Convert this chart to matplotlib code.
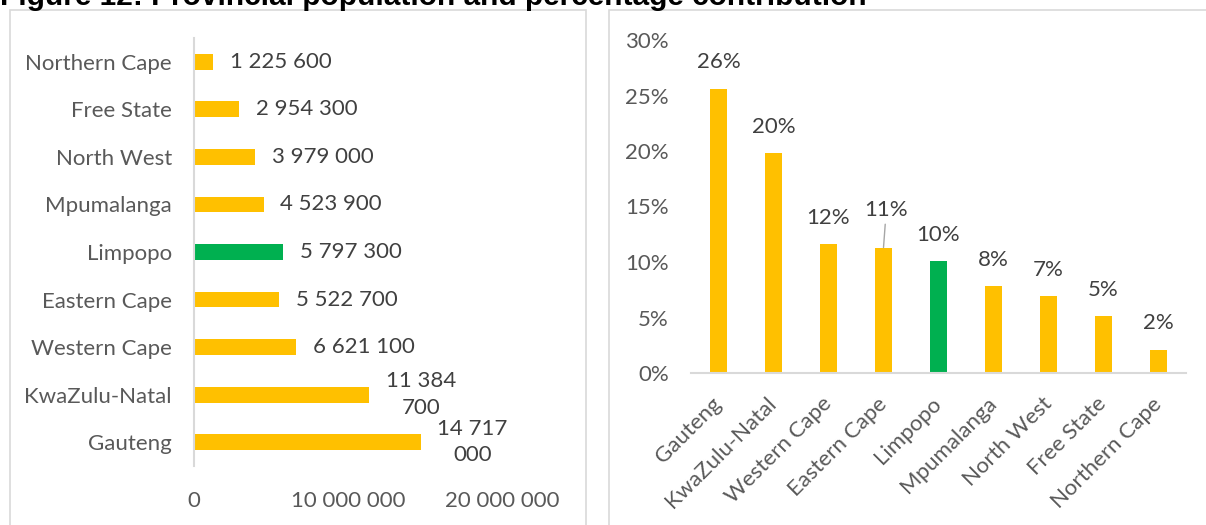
import matplotlib
matplotlib.use('Agg')
import matplotlib.pyplot as plt
from matplotlib.patches import Rectangle
from matplotlib.ticker import FuncFormatter
import numpy as np

# data (bottom to top on the left chart, left to right on the right chart)
provinces = ['Gauteng', 'KwaZulu-Natal', 'Western Cape', 'Eastern Cape', 'Limpopo',
             'Mpumalanga', 'North West', 'Free State', 'Northern Cape']
population = [14717000, 11384700, 6621100, 5522700, 5797300,
              4523900, 3979000, 2954300, 1225600]
share = [0.256, 0.198, 0.116, 0.113, 0.101, 0.078, 0.069, 0.051, 0.021]

YELLOW = '#FFC000'
GREEN = '#00B050'
AXIS_GREY = '#D9D9D9'
TXT = '#595959'
LBL = '#404040'
FONT = 'Lato'
FS = 16

colors = [GREEN if p == 'Limpopo' else YELLOW for p in provinces]


def space_thousands(v):
    return '{:,.0f}'.format(v).replace(',', ' ')


def wrap_label(v):
    # Excel wraps the long labels after the second group
    s = space_thousands(v)
    parts = s.split(' ')
    if v >= 10000000:
        return ' '.join(parts[:2]) + '\n' + ' '.join(parts[2:])
    return s


W, H = 1206, 525
fig = plt.figure(figsize=(W / 100, H / 100), dpi=100)

# panel frames
fig.patches.append(Rectangle((10 / W, -0.05), 576 / W, 1.05 - 10 / H,
                             transform=fig.transFigure, fill=False,
                             edgecolor=AXIS_GREY, lw=1.2))
fig.patches.append(Rectangle((609.5 / W, -0.05), 0.6, 1.05 - 10 / H,
                             transform=fig.transFigure, fill=False,
                             edgecolor=AXIS_GREY, lw=1.2))

fig.text(0, 1 - 5 / H, 'Figure 12: Provincial population and percentage contribution',
         fontsize=21.5, fontweight='bold', family='Liberation Sans', va='baseline', ha='left')

# ---- left: population bar chart
ax1 = fig.add_axes([194 / W, 1 - 466 / H, 308 / W, 428 / H])
y = np.arange(len(provinces))
ax1.barh(y, population, height=0.33, color=colors)
ax1.set_xlim(0, 20000000)
ax1.set_ylim(-0.5, len(provinces) - 0.5)
ax1.set_xticks([0, 10000000, 20000000])
ax1.xaxis.set_major_formatter(FuncFormatter(lambda v, p: space_thousands(v)))
ax1.set_yticks(y)
ax1.set_yticklabels(provinces)
for s in ['top', 'right', 'bottom']:
    ax1.spines[s].set_visible(False)
ax1.spines['left'].set_color(AXIS_GREY)
ax1.spines['left'].set_linewidth(1.5)
ax1.tick_params(axis='both', length=0, labelsize=FS, colors=TXT)
ax1.tick_params(axis='y', pad=16)
ax1.tick_params(axis='x', pad=18)
for t in ax1.get_xticklabels() + ax1.get_yticklabels():
    t.set_family(FONT)

for yi, v in zip(y, population):
    ax1.annotate(wrap_label(v), xy=(v, yi), xytext=(12, 0), textcoords='offset points',
                 ha='left', va='center', multialignment='center', linespacing=1.4,
                 fontsize=FS, family=FONT, color=LBL, annotation_clip=False)

# ---- right: percentage contribution
ax2 = fig.add_axes([691 / W, 1 - 373 / H, 495 / W, 333 / H])
x = np.arange(len(provinces))
ax2.bar(x, share, width=0.315, color=colors)
ax2.set_xlim(-0.5, len(provinces) - 0.5)
ax2.set_ylim(0, 0.30)
ax2.set_yticks(np.arange(0, 0.301, 0.05))
ax2.yaxis.set_major_formatter(FuncFormatter(lambda v, p: '{:.0%}'.format(v)))
ax2.set_xticks(x)
ax2.set_xticklabels(provinces, rotation=45, ha='right', va='center', rotation_mode='anchor')
for s in ['top', 'right', 'left']:
    ax2.spines[s].set_visible(False)
ax2.spines['bottom'].set_color(AXIS_GREY)
ax2.spines['bottom'].set_linewidth(1.5)
ax2.tick_params(axis='both', length=0, labelsize=FS, colors=TXT)
ax2.tick_params(axis='y', pad=16)
ax2.tick_params(axis='x', pad=20)
for t in ax2.get_xticklabels() + ax2.get_yticklabels():
    t.set_family(FONT)

for xi, v in zip(x, share):
    lab = '{:.0%}'.format(v)
    if provinces[xi] == 'Eastern Cape':
        # label pushed up with a leader line
        ax2.annotate(lab, xy=(xi, v), xytext=(2, 27), textcoords='offset points',
                     ha='center', va='center', fontsize=FS, family=FONT, color=LBL,
                     arrowprops=dict(arrowstyle='-', color='#A6A6A6', lw=1,
                                     shrinkA=1, shrinkB=0))
    else:
        ax2.annotate(lab, xy=(xi, v), xytext=(0, 19), textcoords='offset points',
                     ha='center', va='center', fontsize=FS, family=FONT, color=LBL)

plt.savefig('out.png', dpi=100)
